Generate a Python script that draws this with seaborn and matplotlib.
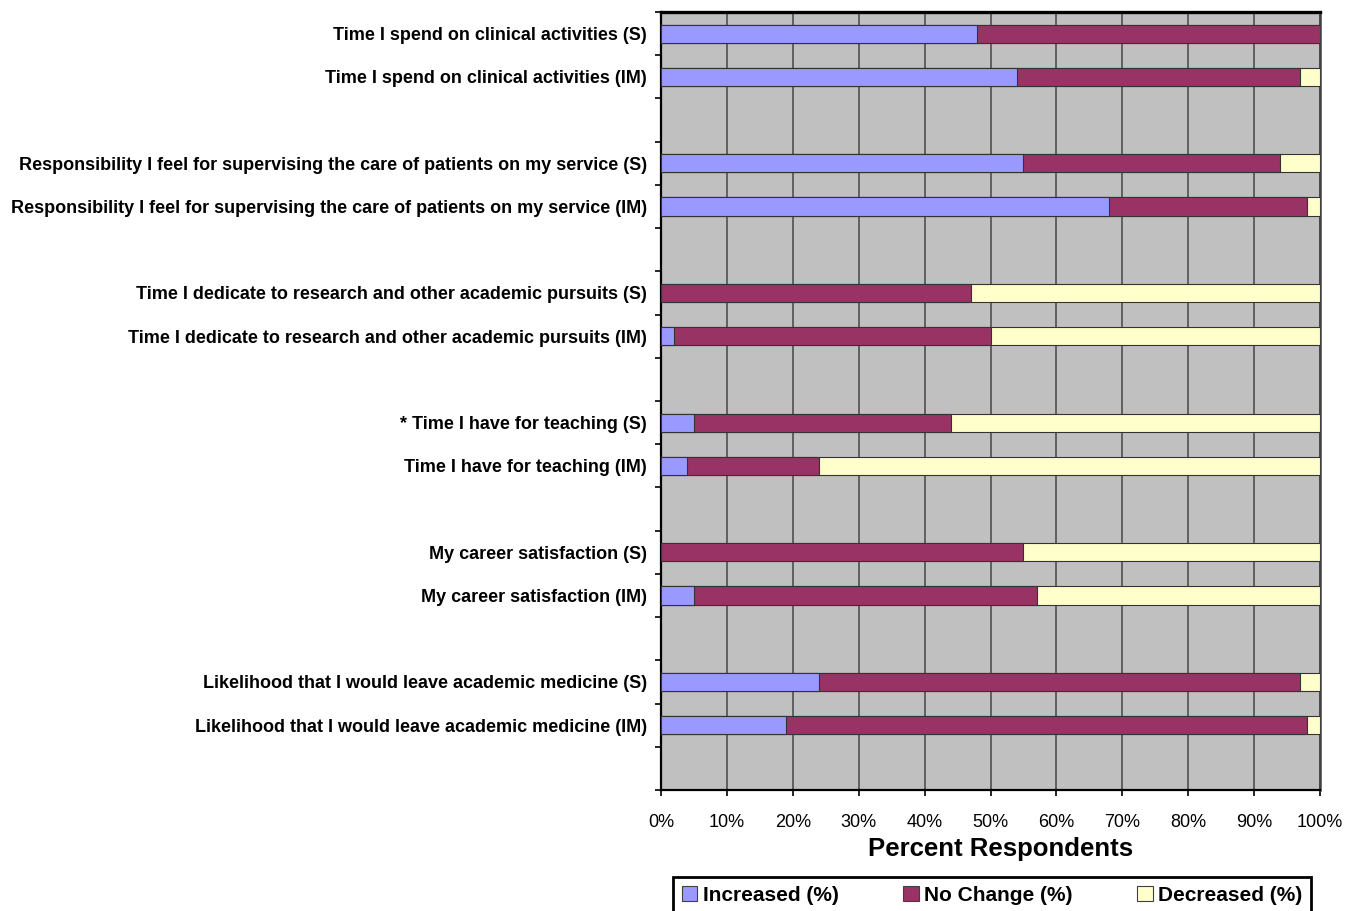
import numpy as np
import pandas as pd
import matplotlib
matplotlib.use("Agg")
import matplotlib.pyplot as plt
from matplotlib.patches import Patch
from matplotlib.ticker import FixedLocator, PercentFormatter
import seaborn as sns

# Survey items (S = surgery, IM = internal medicine)
items = [
    "Time I spend on clinical activities (S)",
    "Time I spend on clinical activities (IM)",
    "Responsibility I feel for supervising the care of patients on my service (S)",
    "Responsibility I feel for supervising the care of patients on my service (IM)",
    "Time I dedicate to research and other academic pursuits (S)",
    "Time I dedicate to research and other academic pursuits (IM)",
    "* Time I have for teaching (S)",
    "Time I have for teaching (IM)",
    "My career satisfaction (S)",
    "My career satisfaction (IM)",
    "Likelihood that I would leave academic medicine (S)",
    "Likelihood that I would leave academic medicine (IM)",
]
increased = [48, 54, 55, 68, 0, 2, 5, 4, 0, 5, 24, 19]
no_change = [52, 43, 39, 30, 47, 48, 39, 20, 55, 52, 73, 79]
decreased = [0, 3, 6, 2, 53, 50, 56, 76, 45, 43, 3, 2]
series_names = ["Increased (%)", "No Change (%)", "Decreased (%)"]
x_ticks = [0, 10, 20, 30, 40, 50, 60, 70, 80, 90, 100]

colors = ["#9999FF", "#993366", "#FFFFCC"]

# Each S/IM pair is followed by an empty slot
rows, inc_v, nc_v, dec_v = [], [], [], []
for i in range(0, len(items), 2):
    for j in (i, i + 1):
        rows.append(items[j])
        inc_v.append(increased[j])
        nc_v.append(no_change[j])
        dec_v.append(decreased[j])
    rows.append(" " * (i // 2 + 1))
    inc_v.append(np.nan)
    nc_v.append(np.nan)
    dec_v.append(np.nan)

df = pd.DataFrame({"row": rows, "inc": inc_v, "nc": nc_v, "dec": dec_v})
df["cum_inc"] = df["inc"]
df["cum_nc"] = df["inc"] + df["nc"]
df["cum_dec"] = df["inc"] + df["nc"] + df["dec"]

sns.set_theme(style="white")
plt.rcParams["font.family"] = ["Liberation Sans", "DejaVu Sans"]
plt.rcParams["text.color"] = "black"
plt.rcParams["axes.labelcolor"] = "black"
plt.rcParams["xtick.color"] = "black"
plt.rcParams["ytick.color"] = "black"

W, H = 1361, 911
fig = plt.figure(figsize=(W / 100, H / 100), dpi=100)
ax = fig.add_axes([661 / W, 1 - 790 / H, 659 / W, 778 / H])
ax.set_facecolor("#C0C0C0")

bar_w = 0.42
edge = "#333333"
for col, c in [("cum_dec", colors[2]), ("cum_nc", colors[1]), ("cum_inc", colors[0])]:
    sns.barplot(data=df, x=col, y="row", order=rows, color=c, width=bar_w,
                errorbar=None, edgecolor=edge, linewidth=0.8, saturation=1,
                orient="h", ax=ax, zorder=3)

ax.set_xlim(0, 100)
ax.set_ylim(len(rows) - 0.5, -0.5)
ax.xaxis.set_major_locator(FixedLocator(x_ticks))
ax.xaxis.set_major_formatter(PercentFormatter(decimals=0))
ax.grid(axis="x", color="#505050", linewidth=1.2, zorder=0)
ax.grid(axis="y", visible=False)
ax.set_axisbelow(True)

# category labels at row centers, tick marks at row boundaries
ax.set_yticks(range(len(rows)))
ax.set_yticklabels(rows, fontsize=13, fontweight="bold")
ax.yaxis.set_minor_locator(FixedLocator(np.arange(-0.5, len(rows), 1.0)))
ax.tick_params(axis="y", which="major", length=0, pad=10)
ax.tick_params(axis="y", which="minor", length=4, width=1.2, color="black",
               direction="out", left=True)
ax.tick_params(axis="x", which="major", length=4, width=1.2, color="black",
               direction="out", bottom=True, labelsize=13, pad=13.5)

ax.set_ylabel("")
ax.set_xlabel("Percent Respondents", fontsize=18.5, fontweight="bold")
ax.xaxis.set_label_coords(0.516, -0.061)
ax.xaxis.label.set_verticalalignment("top")

for side, lw, c in [("left", 1.6, "black"), ("bottom", 1.6, "black"),
                    ("top", 2.4, "black"), ("right", 1.8, "#404040")]:
    ax.spines[side].set_visible(True)
    ax.spines[side].set_linewidth(lw)
    ax.spines[side].set_color(c)

handles = [Patch(facecolor=c, edgecolor="#404040", linewidth=0.8) for c in colors]
leg = fig.legend(handles, series_names, loc="upper center", ncol=3,
                 bbox_to_anchor=(992 / W, 1 - 877 / H), frameon=True,
                 fancybox=False, edgecolor="black", framealpha=1,
                 prop={"weight": "bold", "size": 15},
                 handlelength=0.75, handleheight=0.75, handletextpad=0.25,
                 columnspacing=3.1, borderpad=0.42, borderaxespad=0)
leg.get_frame().set_linewidth(2)

fig.savefig("out.png", dpi=100)
